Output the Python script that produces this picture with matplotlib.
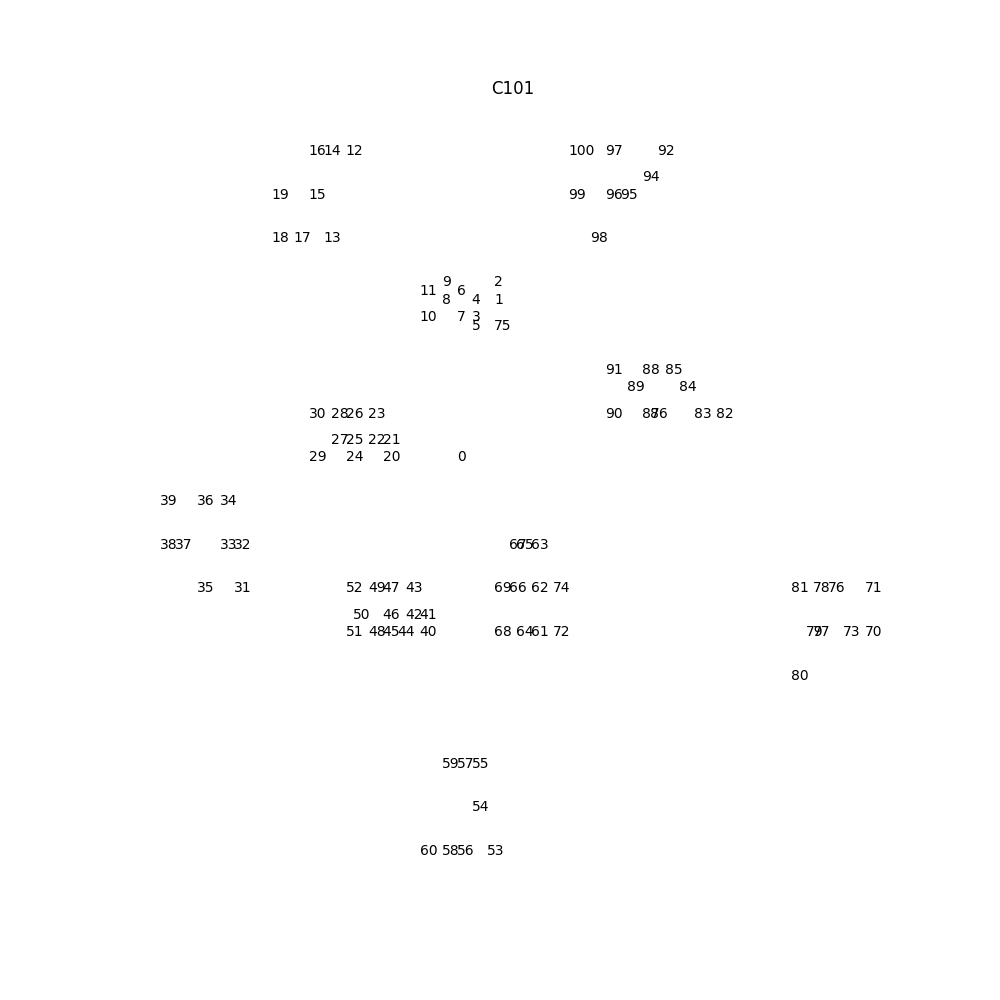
import matplotlib
matplotlib.use("Agg")
import matplotlib.pyplot as plt

# Solomon C101 node coordinates (0 = depot); label 93 does not appear in the reference
node_ids = list(range(0, 93)) + list(range(94, 101))
xs = [40, 45, 45, 42, 42, 42, 40, 40, 38, 38, 35, 35, 25, 22, 22, 20, 20, 18, 15, 15,
      30, 30, 28, 28, 25, 25, 25, 23, 23, 20, 20, 10, 10, 8, 8, 5, 5, 2, 0, 0,
      35, 35, 33, 33, 32, 30, 30, 30, 28, 28, 26, 25, 25, 44, 42, 42, 40, 40, 38, 38,
      35, 50, 50, 50, 48, 48, 47, 47, 45, 45, 95, 95, 53, 92, 53, 45, 90, 88, 88, 87,
      85, 85, 75, 72, 70, 68, 66, 65, 65, 63, 60, 60, 67,
      65, 62, 60, 60, 58, 55, 55]
ys = [50, 68, 70, 66, 68, 65, 69, 66, 68, 70, 66, 69, 85, 75, 85, 80, 85, 75, 75, 80,
      50, 52, 52, 55, 50, 52, 55, 52, 55, 50, 55, 35, 40, 40, 45, 35, 45, 40, 40, 45,
      30, 32, 32, 35, 30, 30, 32, 35, 30, 35, 32, 30, 35, 5, 10, 15, 5, 15, 5, 15,
      5, 30, 35, 40, 30, 40, 35, 40, 30, 35, 30, 35, 30, 30, 35, 65, 35, 30, 35, 30,
      25, 35, 55, 55, 58, 60, 55, 55, 60, 58, 55, 60, 85,
      82, 80, 80, 85, 75, 80, 85]

fig, ax = plt.subplots(figsize=(10, 10), dpi=100)
ax.scatter(xs, ys, s=0)
for i, x, y in zip(node_ids, xs, ys):
    ax.text(x, y, str(i), fontsize=10)
ax.set_title('C101', pad=19)
ax.axis('off')
fig.savefig('out.png')
